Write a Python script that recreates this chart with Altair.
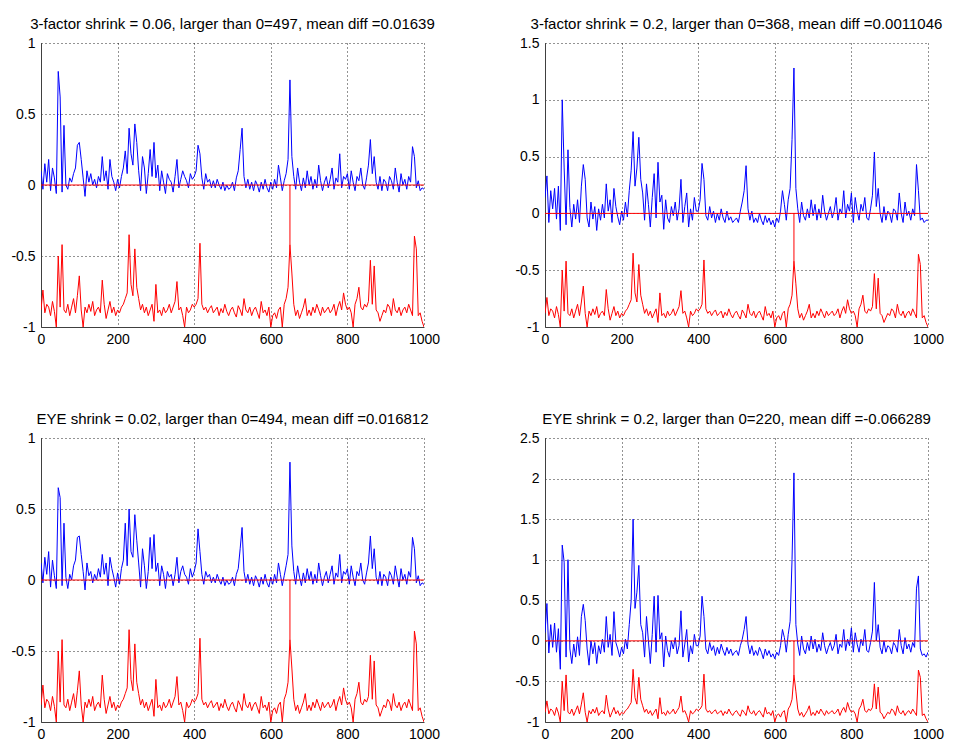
import altair as alt
import pandas as pd

# Sample positions (every 5th observation, 0..1000)
X = list(range(0, 1001, 5))

# Values are stored in hundredths and converted to units below.
RED = [
    -88, -74, -90, -84, -86, -92, -82, -89, -100, -50,
    -86, -42, -88, -90, -84, -92, -86, -80, -90, -78,
    -64, -88, -100, -86, -90, -84, -89, -82, -92, -88,
    -86, -90, -67, -84, -94, -88, -82, -90, -86, -92,
    -88, -90, -86, -84, -80, -76, -35, -70, -78, -45,
    -72, -80, -88, -84, -90, -86, -92, -88, -84, -96,
    -70, -90, -88, -92, -86, -90, -88, -84, -90, -86,
    -82, -68, -88, -86, -92, -100, -86, -90, -88, -84,
    -86, -84, -80, -41, -84, -88, -86, -90, -87, -85,
    -90, -88, -86, -92, -87, -90, -84, -89, -92, -88,
    -86, -90, -93, -85, -88, -92, -80, -88, -90, -86,
    -92, -88, -86, -90, -94, -82, -90, -88, -92, -86,
    -100, -92, -90, -94, -88, -86, -100, -84, -80, -72,
    -42, -62, -84, -92, -88, -94, -90, -86, -80, -92,
    -88, -92, -86, -90, -84, -88, -92, -86, -90, -88,
    -86, -90, -88, -84, -92, -86, -82, -88, -76, -84,
    -88, -86, -90, -100, -84, -80, -72, -86, -88, -84,
    -86, -82, -53, -84, -57, -88, -90, -96, -92, -88,
    -90, -84, -86, -92, -80, -88, -90, -86, -92, -88,
    -86, -90, -84, -88, -92, -36, -45, -92, -90, -96,
    -100,
]

BLUE_3F_006 = [
    10, -3, 15, 2, 18, -4, 12, 5, -6, 80,
    62, -5, 42, 0, -3, 5, 2, 8, 12, 28,
    30, 18, 5, -8, 10, 2, 8, 0, 4, -2,
    6, 2, 20, 3, 10, -3, 18, 6, 2, -4,
    4, -2, 6, 12, 24, 8, 40, 22, 14, 43,
    30, 10, -4, 20, 12, -6, 8, 25, 6, 30,
    5, 14, -4, 10, 2, -6, 8, 4, 2, -5,
    6, 18, -2, 4, 10, 6, 3, -2, 8, 4,
    6, 10, 28, 22, 5, -3, 8, 2, 4, -2,
    3, -2, 4, 0, -3, 2, -4, 0, -3, -2,
    2, -4, 5, 10, 25, 40, 6, -2, 4, -3,
    2, -4, 3, 0, -5, 2, -3, 4, -2, -5,
    2, -3, 4, -2, 14, 5, -4, 3, 8, 18,
    74, 20, 6, -3, 12, 2, -4, 5, -2, 10,
    0, 6, -3, 4, -2, 14, 3, -4, 2, 6,
    -2, 4, 12, -3, 5, 2, 22, -2, 6, 4,
    8, -3, 10, 2, -4, 6, 3, 12, 0, -3,
    5, 14, 32, 8, 20, 2, -3, 6, -4, 4,
    2, -4, 6, 3, -3, 12, 2, -5, 8, 0,
    4, -3, 6, 2, 27, 20, -2, 3, -4, -2,
    -3,
]

BLUE_3F_02 = [
    14, 33, -8, 20, 4, 22, -5, 24, -15, 100,
    40, -10, 56, 5, -12, 8, -5, 12, -8, 24,
    43, 30, -4, -12, 10, -5, 6, -15, 4, -6,
    8, -4, 26, 2, 12, -8, 22, 6, -3, -10,
    2, -6, 10, -3, 20, 38, 72, 24, 40, 67,
    30, 18, -6, 26, 8, -12, 14, 35, -4, 45,
    10, 16, -14, 12, -4, -8, 6, -2, 10, -6,
    4, 30, -8, 6, 18, -12, 4, -6, 14, 2,
    2, 12, 44, 30, -2, -6, 6, -4, 2, -8,
    0, -6, 4, -4, -8, 2, -6, -3, -8, -6,
    -4, -8, 2, 10, 20, 42, 4, -6, 2, -8,
    -4, -8, 0, -6, -10, -2, -8, -4, -10, -6,
    -12, -4, -8, 2, 20, 8, -6, 12, 22, 65,
    128, 22, 4, -8, 10, -2, -6, 4, -4, 12,
    -2, 8, -6, 4, -4, 16, 2, -6, 0, 6,
    -4, 2, 14, -6, 4, 0, 20, -4, 8, 2,
    18, -8, 14, 2, -6, 8, 2, 14, -4, -6,
    4, 16, 54, 6, 22, 0, -8, 6, -6, 2,
    0, -8, 4, 2, -6, 18, 0, -8, 10, -2,
    2, -6, 4, -2, 43, 20, -6, -4, -8, -6,
    -6,
]

BLUE_EYE_002 = [
    12, -2, 16, 4, 20, -5, 14, 3, -6, 65,
    58, -4, 40, 2, -6, 4, 0, 10, 14, 30,
    31, 18, 6, -7, 12, 3, 6, -2, 4, 0,
    8, 2, 18, 4, 12, -4, 16, 8, 2, -5,
    5, -3, 8, 14, 40, 10, 50, 20, 16, 46,
    28, 12, -5, 22, 10, -6, 6, 30, 8, 32,
    6, 12, -4, 10, 4, -6, 6, 2, 4, -4,
    4, 16, -2, 6, 10, 4, 2, -3, 8, 2,
    6, 12, 36, 20, 4, -3, 6, 2, 4, -2,
    2, -2, 4, 0, -3, 2, -4, 0, -3, -2,
    2, -4, 4, 8, 22, 37, 6, -2, 4, -3,
    2, -4, 3, 0, -5, 2, -3, 4, -2, -5,
    2, -3, 4, -2, 12, 4, -4, 3, 10, 18,
    83, 24, 6, -3, 10, 2, -4, 5, -2, 8,
    0, 6, -3, 4, -2, 12, 3, -4, 2, 6,
    -2, 4, 10, -3, 5, 2, 18, -2, 6, 4,
    8, -3, 10, 2, -4, 6, 3, 12, 0, -3,
    5, 12, 31, 8, 22, 2, -3, 6, -4, 4,
    2, -4, 6, 3, -3, 10, 2, -5, 8, 0,
    4, -3, 6, 2, 30, 22, -2, 3, -4, -2,
    -3,
]

BLUE_EYE_02 = [
    10, 46, -15, 20, -8, 22, -14, 15, -35, 118,
    97, -20, 100, -10, -28, -4, -20, 5, -18, 30,
    45, 25, -10, -30, 0, -16, -2, -28, -6, -16,
    2, -14, 30, -8, 8, -18, 36, -2, -10, -20,
    -8, -16, 2, -10, 20, 50, 150, 40, 60, 93,
    20, 10, -20, 30, 0, -28, 8, 55, -14, 56,
    2, 10, -32, 6, -12, -20, 0, -10, 4, -16,
    -6, 37, -20, -4, 14, -26, -6, -16, 8, -6,
    -6, 6, 55, 30, -10, -16, -2, -12, -6, -18,
    -8, -16, -4, -12, -18, -8, -16, -10, -18, -14,
    -12, -18, -6, 2, 14, 30, -4, -16, -6, -18,
    -12, -18, -8, -14, -22, -10, -18, -12, -20, -16,
    -22, -14, -18, -6, 14, 4, -14, 8, 24, 100,
    207, 20, -4, -18, 6, -10, -16, -2, -12, 6,
    -10, 2, -14, -4, -12, 10, -6, -16, -8, -2,
    -12, -6, 8, -16, -4, -8, 14, -12, 2, -6,
    16, -14, 10, -4, -14, 2, -6, 14, -12, -14,
    -2, 12, 72, 0, 20, -8, -16, 0, -14, -6,
    -8, -16, -2, -6, -14, 14, -6, -16, 4, -10,
    -4, -14, -2, -8, 65, 80, -10, -18, -16, -20,
    -14,
]

TITLES = [
    "3-factor shrink = 0.06, larger than 0=497, mean diff =0.01639",
    "3-factor shrink = 0.2, larger than 0=368, mean diff =0.0011046",
    "EYE shrink = 0.02, larger than 0=494, mean diff =0.016812",
    "EYE shrink = 0.2, larger than 0=220, mean diff =-0.066289",
]
Y_TOPS = [1.0, 1.5, 1.0, 2.5]
X_TICKS = [0, 200, 400, 600, 800, 1000]
JUMP_X = 650  # where the red trace jumps up to the zero line

FONT = "Liberation Sans"
W, H = 383, 284


def panel(title, blue, ytop):
    df = pd.DataFrame({
        "x": X,
        "blue": [v / 100 for v in blue],
        "red": [v / 100 for v in RED],
    })
    yticks = [v / 2 for v in range(-2, int(ytop * 2) + 1)]
    xs = alt.Scale(domain=[0, 1000], nice=False, zero=False)
    ys = alt.Scale(domain=[-1, ytop], nice=False, zero=False)
    xax = alt.Axis(values=X_TICKS, title=None, grid=True, labelPadding=5,
                   labelFlush=False, labelExpr="toString(datum.value)")
    yax = alt.Axis(values=yticks, title=None, grid=True, labelPadding=6,
                   labelFlush=False, labelExpr="toString(datum.value)")
    base = alt.Chart(df)
    blue_line = base.mark_line(color="#0000ff", strokeWidth=1, clip=True).encode(
        x=alt.X("x:Q", scale=xs, axis=xax),
        y=alt.Y("blue:Q", scale=ys, axis=yax),
    )
    red_line = base.mark_line(color="#ff0000", strokeWidth=1, clip=True).encode(
        x=alt.X("x:Q", scale=xs),
        y=alt.Y("red:Q", scale=ys),
    )
    jump_y = RED[X.index(JUMP_X)] / 100
    zero = alt.Chart(pd.DataFrame({"y": [0.0]})).mark_rule(
        color="#ff0000", strokeWidth=1
    ).encode(y=alt.Y("y:Q", scale=ys))
    jump = alt.Chart(pd.DataFrame({"x": [JUMP_X], "y": [0.0], "y2": [jump_y]})).mark_rule(
        color="#ff0000", strokeWidth=1
    ).encode(x=alt.X("x:Q", scale=xs), y=alt.Y("y:Q", scale=ys), y2="y2:Q")
    return alt.layer(blue_line, red_line, zero, jump).properties(
        width=W,
        height=H,
        title=alt.TitleParams(title, fontSize=15, font=FONT, fontWeight="normal",
                              color="#000000", anchor="middle", offset=4),
    )


panels = [
    panel(TITLES[0], BLUE_3F_006, Y_TOPS[0]),
    panel(TITLES[1], BLUE_3F_02, Y_TOPS[1]),
    panel(TITLES[2], BLUE_EYE_002, Y_TOPS[2]),
    panel(TITLES[3], BLUE_EYE_02, Y_TOPS[3]),
]

chart = alt.concat(
    *panels,
    columns=2,
    spacing={"row": 111, "column": 121},
    bounds="flush",
).properties(
    padding={"left": 10, "top": 17, "right": 2, "bottom": 0},
    background="#ffffff",
).configure_view(
    stroke=None,
).configure_axis(
    labelFont=FONT,
    labelFontSize=14,
    labelColor="#000000",
    domainColor="#404040",
    domainWidth=1,
    ticks=False,
    tickSize=0,
    gridColor="#000000",
    gridDash=[1, 3],
    gridWidth=1,
    gridOpacity=0.85,
)

chart.save("out.html", embed_options={"renderer": "svg", "actions": False})
